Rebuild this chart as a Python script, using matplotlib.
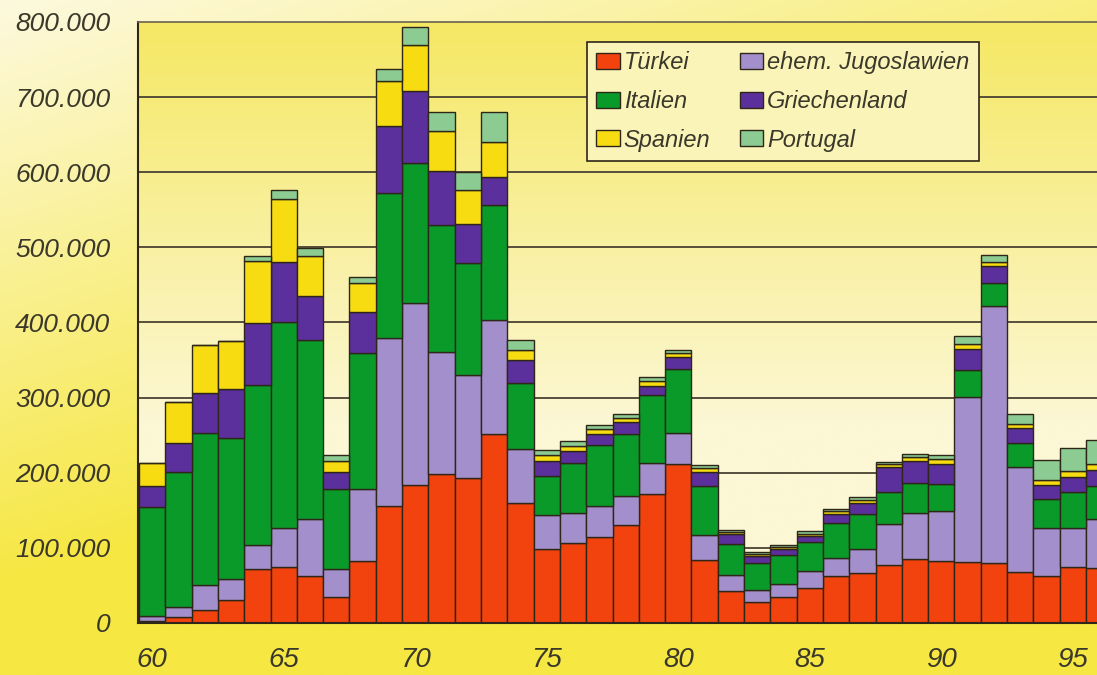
import numpy as np
import matplotlib.pyplot as plt
import matplotlib.font_manager as fm
from matplotlib.patches import Patch
from matplotlib.ticker import FuncFormatter

# Jahre 1960 - 1996 (Werte in Tausend)
jahre = list(range(1960, 1997))

tuerkei = [3, 8, 17, 31, 72, 75, 63, 34, 83, 156, 184, 198, 193, 251, 160, 98, 106, 114, 130,
           172, 212, 84, 42, 28, 34, 47, 62, 66, 77, 85, 83, 81, 80, 68, 63, 74, 73]
jugoslawien = [6, 13, 34, 27, 32, 52, 75, 38, 96, 224, 242, 163, 137, 152, 72, 46, 40, 42, 39,
               41, 41, 33, 22, 16, 18, 22, 25, 33, 55, 61, 66, 220, 342, 140, 63, 52, 66]
italien = [146, 180, 202, 188, 213, 273, 239, 107, 181, 193, 186, 169, 149, 154, 87, 52, 67, 81, 83,
           90, 85, 66, 41, 36, 38, 39, 46, 46, 42, 40, 36, 36, 30, 32, 39, 49, 44]
griechenland = [27, 38, 53, 65, 82, 80, 58, 22, 54, 89, 96, 72, 52, 37, 31, 19, 16, 14, 16,
                13, 16, 18, 13, 9, 8, 8, 12, 15, 33, 30, 27, 28, 23, 19, 19, 20, 20]
spanien = [31, 55, 64, 64, 83, 84, 54, 15, 38, 59, 62, 53, 45, 46, 14, 8, 7, 7, 5,
           6, 6, 5, 3, 3, 3, 3, 4, 4, 4, 5, 6, 7, 5, 6, 7, 7, 8]
portugal = [0, 0, 0, 1, 6, 12, 10, 7, 8, 16, 24, 25, 24, 40, 13, 7, 6, 5, 5,
            6, 4, 4, 3, 3, 3, 3, 3, 4, 3, 4, 6, 10, 10, 13, 26, 31, 32]

serien = [
    ('Türkei', tuerkei, '#f2420e'),
    ('ehem. Jugoslawien', jugoslawien, '#a38fcb'),
    ('Italien', italien, '#0a9a2a'),
    ('Griechenland', griechenland, '#5b2f9c'),
    ('Spanien', spanien, '#f7dc12'),
    ('Portugal', portugal, '#8ccb92'),
]

namen = {f.name for f in fm.fontManager.ttflist}
schrift = 'Liberation Sans Narrow' if 'Liberation Sans Narrow' in namen else 'Liberation Sans'
plt.rcParams['font.family'] = [schrift, 'DejaVu Sans']
textfarbe = '#3a382a'
kante = '#2e2618'

fig = plt.figure(figsize=(10.97, 6.75), dpi=100)

# Hintergrund mit Verlauf
bg = fig.add_axes([0, 0, 1, 1], zorder=-10)
yy, xx = np.mgrid[0:1:300j, 0:1:300j]
w = np.clip(yy * 1.15 + xx * 0.6, 0, 1)[..., None]
c1 = np.array([253, 249, 222]) / 255
c2 = np.array([246, 231, 66]) / 255
bg.imshow(c1 * (1 - w) + c2 * w, extent=[0, 1, 0, 1], aspect='auto', origin='upper')
bg.axis('off')

ax = fig.add_axes([138 / 1097, 52 / 675, 959 / 1097, 601 / 675])
x0, x1 = 1959.46, 1995.92

# Zeichenfläche: oben gelb, unten hell
t = np.linspace(0, 1, 300)[:, None]
t = np.clip(t * 1.5, 0, 1)[..., None]
p1 = np.array([245, 232, 100]) / 255
p2 = np.array([252, 247, 212]) / 255
ax.imshow(p1 * (1 - t) + p2 * t * np.ones((1, 10, 1)), extent=[x0, x1, 0, 800000],
          aspect='auto', origin='upper', zorder=0)

for v in range(100000, 800000, 100000):
    ax.axhline(v, color='#4a4232', lw=1.3, zorder=1)

unten = np.zeros(len(jahre))
for name, werte, farbe in serien:
    werte = np.array(werte) * 1000
    ax.bar(jahre, werte, 1.0, bottom=unten, color=farbe, edgecolor=kante, linewidth=1, zorder=2)
    unten += werte

ax.set_xlim(x0, x1)
ax.set_ylim(0, 800000)

ax.set_yticks(range(0, 800001, 100000))
ax.yaxis.set_major_formatter(FuncFormatter(lambda v, p: f'{int(v):,}'.replace(',', '.')))
ax.set_xticks(range(1960, 1996, 5))
ax.set_xticklabels([str(j)[2:] for j in range(1960, 1996, 5)])
ax.tick_params(axis='y', length=0, pad=20, labelsize=19, labelcolor=textfarbe)
ax.tick_params(axis='x', length=0, pad=17, labelsize=20, labelcolor=textfarbe)
for lab in ax.get_xticklabels() + ax.get_yticklabels():
    lab.set_fontstyle('italic')

for s in ['left', 'bottom']:
    ax.spines[s].set_color(kante)
    ax.spines[s].set_linewidth(1.5)
ax.spines['top'].set_color('#6a6250')
ax.spines['top'].set_linewidth(1.2)
ax.spines['right'].set_visible(False)

# Legende (spaltenweise)
reihenfolge = [0, 2, 4, 1, 3, 5]
griffe = [Patch(facecolor=serien[i][2], edgecolor=kante, linewidth=1) for i in reihenfolge]
texte = [serien[i][0] for i in reihenfolge]
leg = ax.legend(griffe, texte, ncol=2, loc='upper left',
                bbox_to_anchor=(587 / 1097, 1 - 42 / 675), bbox_transform=fig.transFigure,
                borderaxespad=0, handlelength=1.0, handleheight=0.65,
                handletextpad=0.15, columnspacing=1.25, labelspacing=0.66, borderpad=0.4,
                fancybox=False, framealpha=1, facecolor='#fbf4b8', edgecolor=kante,
                prop={'style': 'italic', 'size': 17})
leg.get_frame().set_linewidth(1.2)
for tx in leg.get_texts():
    tx.set_color(textfarbe)
leg.set_zorder(5)

fig.savefig('out.png', dpi=100)
